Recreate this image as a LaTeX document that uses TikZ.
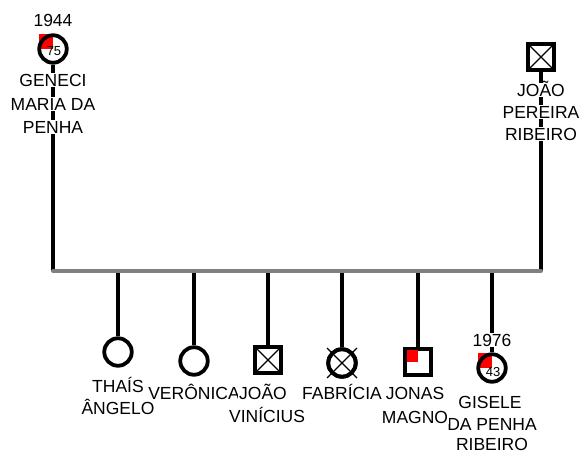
\documentclass[tikz,border=0pt]{standalone}
\usepackage{fontspec}
\setmainfont{Liberation Sans}
\begin{document}
\begin{tikzpicture}[x=1pt,y=-1pt,
  lbl/.style={fill=white,inner sep=1.2pt,text height=12.3pt,text depth=0pt,
    font=\fontsize{17.5}{19}\selectfont},
  age/.style={inner sep=0pt,font=\fontsize{13}{14}\selectfont},
  female/.style={circle,draw=black,line width=3.8pt,minimum size=27.5pt,inner sep=0pt},
  male/.style={rectangle,draw=black,line width=3.8pt,minimum size=26pt,inner sep=0pt,fill=white},
  deceased/.style={path picture={
    \draw[line width=1.2pt] (path picture bounding box.north west) -- (path picture bounding box.south east)
      (path picture bounding box.north east) -- (path picture bounding box.south west);}},
  link/.style={line width=3.5pt,draw=black},
  sibship/.style={line width=4pt,draw=gray,line cap=round},
  cross/.style={line width=1.3pt,draw=black}
]
\useasboundingbox (0,0) rectangle (584,454);

% ---- parents ----
\fill[red] (53,49) rectangle ++(-14.5,-15);
\node[female] (gen) at (53,49) {};
\node[age] (genage) at (54,51) {75};
\node[male,deceased] (jpr) at (541,57) {};

\coordinate (sibL) at (53,271);
\coordinate (sibR) at (541,271);
\draw[link] (gen.south) -- (sibL);
\draw[link] (jpr.south) -- (sibR);

% ---- children ----
\node[female,fill=white] (tha) at (118,352) {};
\node[female,fill=white] (ver) at (194,361) {};
\node[male,deceased] (jvi) at (268,360) {};
\node[female,fill=white] (fab) at (342,363) {};
\node[male] (jon) at (418,362) {};
\fill[red] (jon.center) rectangle ++(-11.5,-11.5);
\fill[red] (492,368) rectangle ++(-14.5,-15);
\node[female] (gis) at (492,368) {};
\node[age] (gisage) at (493,372) {43};

\draw[cross] ([shift={(-15,-15)}]fab.center) -- ([shift={(15,15)}]fab.center)
             ([shift={(15,-15)}]fab.center) -- ([shift={(-15,15)}]fab.center);
\node[female] (fabring) at (fab.center) {};

\foreach \c in {tha,ver,jvi,fab,jon,gis}
  \draw[link] (\c |- sibL) -- (\c.north);
\draw[sibship] (sibL) -- (sibR);

% ---- labels ----
\node[lbl] (genyr) at (53,20) {1944};
\node[lbl] (gen1) at (53,80) {GENECI};
\node[lbl] (gen2) at (53,104) {MARIA DA};
\node[lbl] (gen3) at (53,127) {PENHA};

\node[lbl] (jpr1) at (541,90) {JOÃO};
\node[lbl] (jpr2) at (541,112) {PEREIRA};
\node[lbl] (jpr3) at (541,134) {RIBEIRO};

\node[lbl] (tha1) at (118,386) {THAÍS};
\node[lbl] (tha2) at (118,408) {ÂNGELO};
\node[lbl] (ver1) at (194,393) {VERÔNICA};
\node[lbl] (jvi1) at (263,393) {JOÃO};
\node[lbl] (jvi2) at (267,416) {VINÍCIUS};
\node[lbl] (fab1) at (342,393) {FABRÍCIA};
\node[lbl] (gisyr) at (492,340) {1976};
\node[lbl] (gis1) at (490,402) {GISELE};
\node[lbl] (gis2) at (492,424) {DA PENHA};
\node[lbl] (gis3) at (492,444.5) {RIBEIRO};
\node[lbl] (jon1) at (415,393) {JONAS};
\node[lbl] (jon2) at (415,417) {MAGNO};
\end{tikzpicture}
\end{document}
